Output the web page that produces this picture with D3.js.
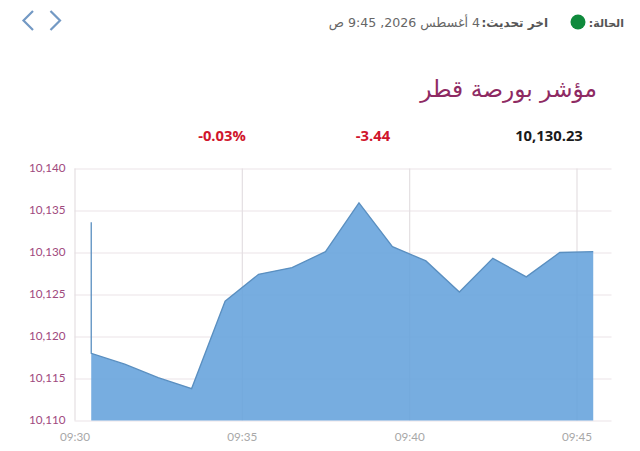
<!DOCTYPE html>
<html>
<head>
<meta charset="utf-8">
<script src="https://cdn.jsdelivr.net/npm/d3@7"></script>
<style>
html, body { margin: 0; padding: 0; background: #fff; overflow: hidden; }
text { font-family: "Open Sans", sans-serif; }
.ar { font-family: "DejaVu Sans", sans-serif; direction: rtl; }
.tick text { font-family: Lato, sans-serif; font-size: 11.7px; }
</style>
</head>
<body>
<script>
var w = 640;
var h = 451;

// minute of the session, repeated minute is the opening spike
var times = ["09:30:30", "09:30:30", "09:31:30", "09:32:30", "09:33:30", "09:34:30", "09:35:30", "09:36:30", "09:37:30", "09:38:30", "09:39:30", "09:40:30", "09:41:30", "09:42:30", "09:43:30", "09:44:30", "09:45:30"];
var values = [10133.6, 10118, 10116.7, 10115.1, 10113.8, 10124.2, 10127.4, 10128.2, 10130.1, 10135.9, 10130.7, 10129, 10125.3, 10129.3, 10127.1, 10130, 10130.1];
var yTicks = [10110, 10115, 10120, 10125, 10130, 10135, 10140];
var xTicks = ["09:30:00", "09:35:00", "09:40:00", "09:45:00"];

var parse = d3.timeParse("%H:%M:%S");
var data = times.map(function(t, i) { return { t: parse(t), v: values[i] }; });

var svg = d3.select("body")
  .append("svg")
  .attr("width", w)
  .attr("height", h)
  .style("display", "block");

var x = d3.scaleTime()
  .domain([parse("09:30:00"), parse("09:45:00")])
  .range([74.5, 576.5]);
var y = d3.scaleLinear()
  .domain([10110, 10140])
  .range([420.5, 168.5]);

// grid and axes
var yAxis = d3.axisLeft(y)
  .tickValues(yTicks)
  .tickFormat(d3.format(","))
  .tickSize(0)
  .tickPadding(9);
var gy = svg.append("g")
  .attr("transform", "translate(74.5,0)")
  .call(yAxis);
gy.select(".domain").remove();
gy.selectAll(".tick text")
  .attr("fill", "#a04a7e")
  .attr("dy", "0.22em");
gy.selectAll(".tick line")
  .attr("x2", 537)
  .attr("stroke", "#ebe3e7")
  .attr("stroke-width", 1.2);

var xAxis = d3.axisBottom(x)
  .tickValues(xTicks.map(parse))
  .tickFormat(d3.timeFormat("%H:%M"))
  .tickSize(0)
  .tickPadding(12);
var gx = svg.append("g")
  .attr("transform", "translate(0,420.5)")
  .call(xAxis);
gx.select(".domain").remove();
gx.selectAll(".tick text").attr("fill", "#a8a8a8");
gx.selectAll(".tick line")
  .attr("y2", y(10140) - y(10110))
  .attr("stroke", "#e4dfe2")
  .attr("stroke-width", 1.2);

// area, see-through so the grid shows under it
var area = d3.area()
  .x(function(d) { return x(d.t); })
  .y0(y(10110))
  .y1(function(d) { return y(d.v); });
svg.append("path")
  .datum(data.slice(1))
  .attr("d", area)
  .attr("fill", "#64a2dc")
  .attr("fill-opacity", 0.88);

var line = d3.line()
  .x(function(d) { return x(d.t); })
  .y(function(d) { return y(d.v); });
svg.append("path")
  .datum(data)
  .attr("d", line)
  .attr("fill", "none")
  .attr("stroke", "#5a8fc0")
  .attr("stroke-width", 1.3);

// header
svg.append("path")
  .attr("d", "M33,11 L23.5,20.5 L33,30 M50.5,11 L60,20.5 L50.5,30")
  .attr("fill", "none")
  .attr("stroke", "#7399c4")
  .attr("stroke-width", 2.2);

svg.append("text").attr("class", "ar")
  .attr("x", 624).attr("y", 27)
  .attr("font-size", 11).attr("font-weight", "bold")
  .attr("fill", "#555").attr("text-anchor", "start")
  .text("الحالة:");
svg.append("circle")
  .attr("cx", 578).attr("cy", 22).attr("r", 7.5)
  .attr("fill", "#0f8a3c");
svg.append("text").attr("class", "ar")
  .attr("x", 548).attr("y", 27)
  .attr("font-size", 12).attr("font-weight", "bold")
  .attr("fill", "#555").attr("text-anchor", "start")
  .text("اخر تحديث:");
svg.append("text").attr("class", "ar")
  .attr("x", 480).attr("y", 27)
  .attr("font-size", 12.6)
  .attr("fill", "#666").attr("text-anchor", "start")
  .text("4 أغسطس 2026, 9:45 ص");

svg.append("text").attr("class", "ar")
  .attr("x", 597).attr("y", 97)
  .attr("font-size", 23.3)
  .attr("fill", "#8e2a63").attr("text-anchor", "start")
  .text("مؤشر بورصة قطر");

var summary = [
  { s: "10,130.23", x: 549, c: "#1a1a1a" },
  { s: "-3.44", x: 373, c: "#d0152c" },
  { s: "-0.03%", x: 222, c: "#d0152c" }
];
svg.selectAll(".summary")
  .data(summary)
  .enter()
  .append("text")
  .attr("class", "summary")
  .attr("x", function(d) { return d.x; })
  .attr("y", 141)
  .attr("text-anchor", "middle")
  .attr("font-size", 14.8)
  .attr("font-weight", 700)
  .attr("fill", function(d) { return d.c; })
  .text(function(d) { return d.s; });
</script>
</body>
</html>
